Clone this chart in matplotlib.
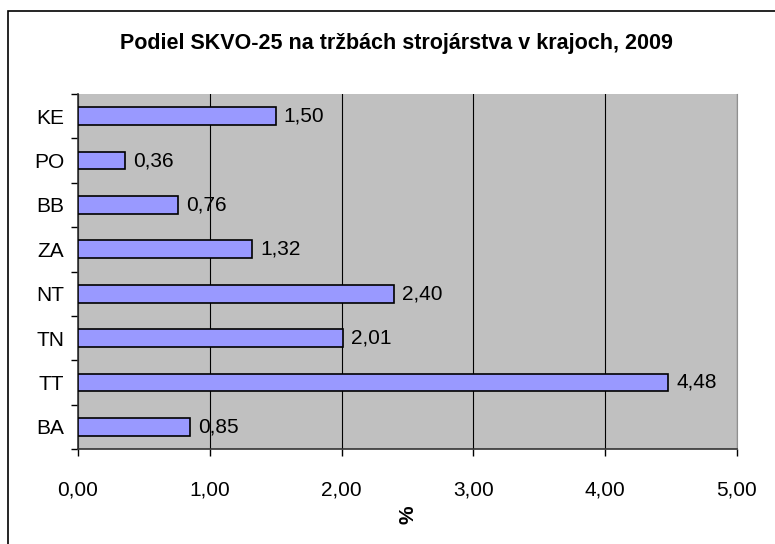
import matplotlib.pyplot as plt
from matplotlib.patches import Rectangle

plt.rcParams['font.family'] = ['Liberation Sans', 'DejaVu Sans']

# Data
regions = ['BA', 'TT', 'TN', 'NT', 'ZA', 'BB', 'PO', 'KE']
shares = [0.85, 4.48, 2.01, 2.40, 1.32, 0.76, 0.36, 1.50]
xticks = [0, 1, 2, 3, 4, 5]

fig = plt.figure(figsize=(7.75, 5.44), dpi=100)

# outer chart frame
fig.patches.append(Rectangle((8 / 775, -0.01), 1.0, (544 - 11) / 544 + 0.01,
                             transform=fig.transFigure, fill=False,
                             edgecolor='black', linewidth=1.2))

ax = fig.add_axes([78 / 775, (544 - 449) / 544, 659 / 775, 355 / 544])
ax.set_facecolor('#c0c0c0')

ypos = range(len(regions))
ax.barh(ypos, shares, height=0.4, color='#9999ff', edgecolor='black',
        linewidth=1.2, zorder=3)

for y, v in zip(ypos, shares):
    ax.text(v + 0.06, y, f"{v:.2f}".replace('.', ','), va='center', ha='left',
            fontsize=15, zorder=4)

ax.set_xlim(0, 5)
ax.set_ylim(-0.5, len(regions) - 0.5)
ax.set_xticks(xticks)
ax.set_xticklabels([f"{t:.2f}".replace('.', ',') for t in xticks], fontsize=15)
ax.set_yticks(list(ypos))
ax.set_yticklabels(regions, fontsize=15)
ax.set_yticks([i - 0.5 for i in range(len(regions) + 1)], minor=True)
ax.tick_params(axis='y', which='major', length=0, pad=10)
ax.tick_params(axis='y', which='minor', length=5, width=1, direction='out')
ax.tick_params(axis='x', length=5, width=1, direction='out', pad=18)

ax.grid(axis='x', color='black', linewidth=0.8, zorder=1)
ax.spines['top'].set_visible(False)
ax.spines['right'].set_color('#909090')
ax.spines['left'].set_color('#333333')
ax.spines['bottom'].set_color('#333333')
ax.spines['left'].set_linewidth(1.2)
ax.spines['bottom'].set_linewidth(1.2)

ax.set_xlabel('%', fontsize=15, fontweight='bold', rotation=90, labelpad=4)

fig.text(396 / 775, 1 - 44 / 544, 'Podiel SKVO-25 na tržbách strojárstva v krajoch, 2009',
         ha='center', va='center', fontsize=15.5, fontweight='bold')

fig.savefig('out.png', dpi=100)
